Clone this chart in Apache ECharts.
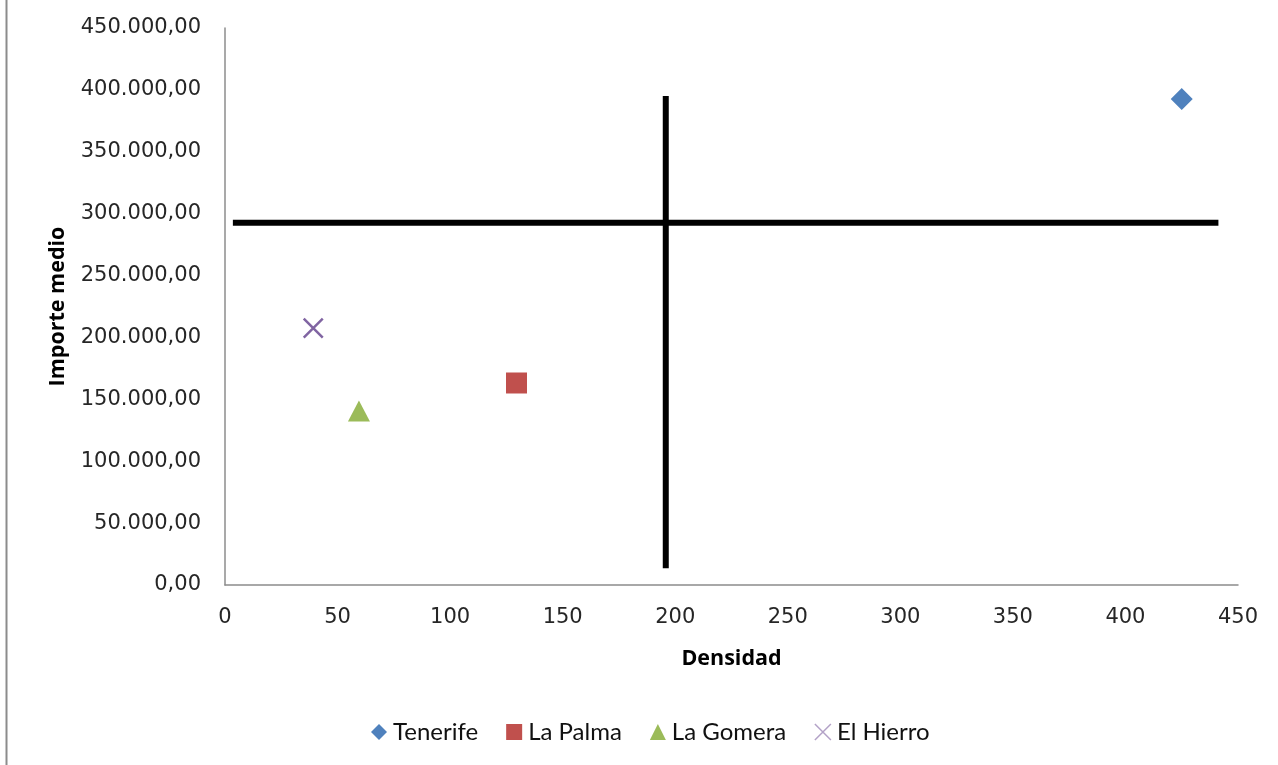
<!DOCTYPE html>
<html>
<head>
<meta charset="utf-8">
<title>Densidad e importe medio</title>
<script src="https://cdn.jsdelivr.net/npm/echarts@6/dist/echarts.min.js"></script>
<style>
  html, body { margin: 0; padding: 0; background: #ffffff; }
  #chart { width: 1278px; height: 765px; }
</style>
</head>
<body>
<div id="chart"></div>
<script>
// Islands: [densidad, importe medio]
const islands = ['Tenerife', 'La Palma', 'La Gomera', 'El Hierro'];
const tenerife = [[425, 392600]];
const laPalma = [[129.5, 163200]];
const laGomera = [[59.5, 140600]];
const elHierro = [[39.2, 207600]];

// Dividing cross lines
const lineaHorizontal = [[3.5, 292700], [441.3, 292700]];
const lineaVertical = [[195.8, 395000], [195.8, 13500]];

// Axis settings
const xTicks = { min: 0, max: 450, interval: 50 };
const yTicks = { min: 0, max: 450000, interval: 50000 };

const colors = ['#4F81BD', '#C0504D', '#9BBB59', '#8064A2'];
const crossPath = 'path://M0,0L10,10M10,0L0,10';

function formatEs(v) {
  const parts = v.toFixed(2).split('.');
  const ent = parts[0].replace(/\B(?=(\d{3})+(?!\d))/g, '.');
  return ent + ',' + parts[1];
}

const chart = echarts.init(document.getElementById('chart'), null, { renderer: 'canvas' });

const tickFont = { fontFamily: 'DejaVu Sans', fontSize: 21, color: '#262626' };

chart.setOption({
  animation: false,
  backgroundColor: '#ffffff',
  grid: { left: 225, right: 40, top: 28, bottom: 180, containLabel: false },
  graphic: [{
    type: 'line',
    shape: { x1: 6.5, y1: 0, x2: 6.5, y2: 765 },
    style: { stroke: '#8c8c8c', lineWidth: 2 }
  }],
  legend: {
    left: 366,
    top: 715,
    itemGap: 28,
    itemWidth: 16,
    itemHeight: 16,
    textStyle: { fontFamily: 'Lato', fontSize: 24, color: '#111', padding: [0, 0, 0, 1] },
    data: [
      { name: 'Tenerife', icon: 'diamond' },
      { name: 'La Palma', icon: 'rect' },
      { name: 'La Gomera', icon: 'triangle' },
      { name: 'El Hierro', icon: crossPath, itemStyle: { color: 'transparent', borderColor: '#b3a2c7', borderWidth: 1.5 } }
    ]
  },
  xAxis: {
    type: 'value',
    min: xTicks.min, max: xTicks.max, interval: xTicks.interval,
    name: 'Densidad',
    nameLocation: 'middle',
    nameGap: 63,
    nameTextStyle: { fontFamily: 'Open Sans', fontWeight: 'bold', fontSize: 21.5, color: '#000' },
    axisLine: { onZero: false, lineStyle: { color: '#8c8c8c', width: 1.5 } },
    axisTick: { show: false },
    splitLine: { show: false },
    axisLabel: Object.assign({ margin: 22 }, tickFont)
  },
  yAxis: {
    type: 'value',
    min: yTicks.min, max: yTicks.max, interval: yTicks.interval,
    name: 'Importe medio',
    nameLocation: 'middle',
    nameGap: 156,
    nameTextStyle: { fontFamily: 'Open Sans', fontWeight: 'bold', fontSize: 21.5, color: '#000' },
    axisLine: { show: true, onZero: false, lineStyle: { color: '#8c8c8c', width: 1.5 } },
    axisTick: { show: false },
    splitLine: { show: false },
    axisLabel: Object.assign({ margin: 24, formatter: formatEs }, tickFont)
  },
  series: [
    {
      name: 'lineaH', type: 'line', data: lineaHorizontal, symbol: 'none',
      lineStyle: { color: '#000', width: 6 }, silent: true, z: 1
    },
    {
      name: 'lineaV', type: 'line', data: lineaVertical, symbol: 'none',
      lineStyle: { color: '#000', width: 6 }, silent: true, z: 1
    },
    {
      name: islands[0], type: 'scatter', data: tenerife, symbol: 'diamond', symbolSize: 22,
      itemStyle: { color: colors[0], opacity: 1 }, z: 3
    },
    {
      name: islands[1], type: 'scatter', data: laPalma, symbol: 'rect', symbolSize: 21,
      itemStyle: { color: colors[1], opacity: 1, borderRadius: 2 }, z: 3
    },
    {
      name: islands[2], type: 'scatter', data: laGomera, symbol: 'triangle', symbolSize: [22, 21],
      itemStyle: { color: colors[2], opacity: 1 }, z: 3
    },
    {
      name: islands[3], type: 'scatter', data: elHierro, symbol: crossPath, symbolSize: 19,
      itemStyle: { color: 'transparent', borderColor: colors[3], borderWidth: 2.5, opacity: 1 }, z: 3
    }
  ]
});
</script>
</body>
</html>
